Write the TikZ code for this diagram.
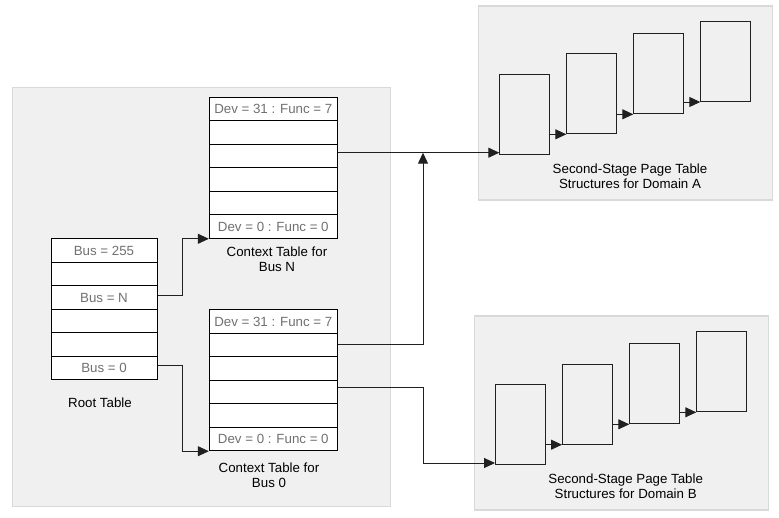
\documentclass[tikz,border=0pt]{standalone}
\usepackage{fontspec}
\setmainfont{Liberation Sans}
\usetikzlibrary{arrows.meta,calc}
\definecolor{panelfill}{HTML}{F0F0F0}
\definecolor{paneldraw}{HTML}{D9D9D9}
\definecolor{celltext}{HTML}{707070}
\definecolor{linecol}{HTML}{202020}
\tikzset{
  panel/.style={draw=paneldraw, fill=panelfill, line width=1.5pt},
  rootcell/.style={draw=black, fill=white, line width=1pt, minimum width=106pt, minimum height=23.55pt, inner sep=0pt, text=celltext, font=\fontsize{13.3}{15}\selectfont},
  ctxcell/.style={draw=black, fill=white, line width=1pt, minimum width=128pt, minimum height=23.5pt, inner sep=0pt, text=celltext, font=\fontsize{13.3}{15}\selectfont},
  pgbox/.style={draw=linecol, line width=1pt, minimum width=50pt, minimum height=80pt, inner sep=0pt},
  lbl/.style={align=center, font=\fontsize{13.3}{15}\selectfont, text=black, inner sep=0pt},
  arr/.style={draw=linecol, line width=1pt, -{Triangle[length=11pt,width=10pt]}},
}
\begin{document}
\begin{tikzpicture}[x=1pt,y=-1pt]
\useasboundingbox (0,0) rectangle (779,517);
% panels
\node[panel, minimum width=378pt, minimum height=419pt, inner sep=0pt, anchor=north west] (leftpanel) at (11.5,86.5) {};
\node[panel, minimum width=294pt, minimum height=194pt, inner sep=0pt, anchor=north west] (panelA) at (477.5,5) {};
\node[panel, minimum width=294pt, minimum height=194pt, inner sep=0pt, anchor=north west] (panelB) at (473.5,315.3) {};
% root table
\node[rootcell] (r1) at (104,250.5) {Bus = 255};
\node[rootcell] (r2) at (104,274.0) {};
\node[rootcell] (r3) at (104,297.6) {Bus = N};
\node[rootcell] (r4) at (104,321.1) {};
\node[rootcell] (r5) at (104,344.7) {};
\node[rootcell] (r6) at (104,368.2) {Bus = 0};
\node[lbl] (rootlbl) at (100,403) {Root Table};
% context table bus N
\node[ctxcell] (cN1) at (273.3,109.05) {Dev = 31 : Func = 7};
\node[ctxcell] (cN2) at (273.3,132.55) {};
\node[ctxcell] (cN3) at (273.3,156.05) {};
\node[ctxcell] (cN4) at (273.3,179.55) {};
\node[ctxcell] (cN5) at (273.3,203.05) {};
\node[ctxcell] (cN6) at (273.3,226.55) {Dev = 0 : Func = 0};
\node[lbl] (cNlbl) at (277,259.5) {Context Table for\\Bus N};
% context table bus 0
\node[ctxcell] (c01) at (273.3,321.45) {Dev = 31 : Func = 7};
\node[ctxcell] (c02) at (273.3,344.95) {};
\node[ctxcell] (c03) at (273.3,368.45) {};
\node[ctxcell] (c04) at (273.3,391.95) {};
\node[ctxcell] (c05) at (273.3,415.45) {};
\node[ctxcell] (c06) at (273.3,438.95) {Dev = 0 : Func = 0};
\node[lbl] (c0lbl) at (269,475) {Context Table for\\Bus 0};
% domain A boxes
\node[pgbox, anchor=south west] (A1) at (499.3,155) {};
\node[pgbox, anchor=south west] (A2) at (566.3,134.3) {};
\node[pgbox, anchor=south west] (A3) at (633.3,114.3) {};
\node[pgbox, anchor=south west] (A4) at (700.3,102) {};
\node[lbl] (Albl) at (630,176.3) {Second-Stage Page Table\\Structures for Domain A};
% domain B boxes
\node[pgbox, anchor=south west] (B1) at (495,465) {};
\node[pgbox, anchor=south west] (B2) at (562,444.7) {};
\node[pgbox, anchor=south west] (B3) at (629.3,424.3) {};
\node[pgbox, anchor=south west] (B4) at (696.3,412.3) {};
\node[lbl] (Blbl) at (625.7,486.7) {Second-Stage Page Table\\Structures for Domain B};
% chain arrows
\draw[arr] (A1.east |- A2.south) -- (A2.south west);
\draw[arr] (A2.east |- A3.south) -- (A3.south west);
\draw[arr] (A3.east |- A4.south) -- (A4.south west);
\draw[arr] (B1.east |- B2.south) -- (B2.south west);
\draw[arr] (B2.east |- B3.south) -- (B3.south west);
\draw[arr] (B3.east |- B4.south) -- (B4.south west);
% root to context tables
\draw[arr] ([yshift=2.5pt]r3.east) -- ++(25,0) |- (cN6.south west);
\draw[arr] ([yshift=2.5pt]r6.east) -- ++(25,0) |- (c06.south west);
% context tables to domains
\coordinate (jA) at (423,152.7);
\draw[arr] (cN3.east |- jA) -- (A1.west |- jA);
\draw[arr] (c02.east) -| (jA);
\draw[arr] ([yshift=4.6pt]c04.east) -- ++(85.7,0) |- ([yshift=2pt]B1.south west);
\end{tikzpicture}
\end{document}
